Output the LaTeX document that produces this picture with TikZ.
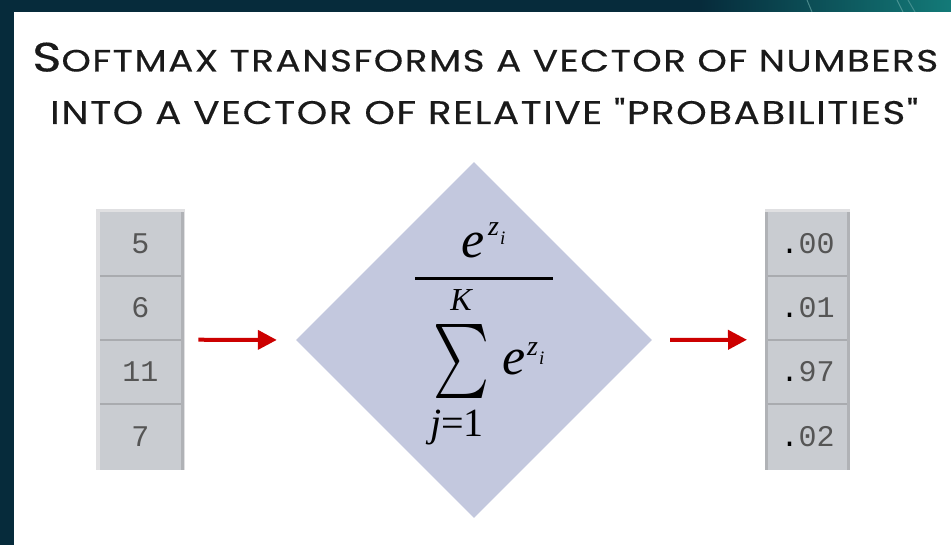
\documentclass[tikz,border=0pt]{standalone}
\usepackage{fontspec}
\usepackage{graphicx}
\usetikzlibrary{arrows.meta,shapes.geometric}
\newfontfamily\ttl[LetterSpace=4,FakeBold=0.3]{Poppins}
\newfontfamily\tms{Liberation Serif}
\newfontfamily\mno{Liberation Mono}
\definecolor{bgdark}{HTML}{062B3B}
\definecolor{bgteal}{HTML}{137A78}
\definecolor{cellfill}{HTML}{C9CCD1}
\definecolor{cellline}{HTML}{A9ABAF}
\definecolor{celledge}{HTML}{E0E0E2}
\definecolor{celldark}{HTML}{B0B2B6}
\definecolor{diafill}{HTML}{C3C8DE}
\definecolor{arrowred}{HTML}{CC0000}
\definecolor{numgrey}{HTML}{555555}
\definecolor{titleblack}{HTML}{1A1A1A}
\tikzset{
  vecframe/.style={fill=celledge, inner sep=0pt, anchor=north west},
  cellbox/.style={fill=cellfill, inner sep=0pt, text=numgrey,
    font=\mno\fontsize{30}{30}\selectfont},
  divider/.style={cellline, line width=2.5pt},
  flow/.style={arrowred, line width=4pt, -{Triangle[length=19pt,width=19pt]}},
  mathtxt/.style={inner sep=0pt, text=black},
}
\begin{document}
\begin{tikzpicture}[x=1pt,y=-1pt]
\useasboundingbox (0,0) rectangle (951,545);
% background
\fill[bgdark] (0,0) rectangle (951,545);
\fill[left color=bgdark,right color=bgteal] (700,0) rectangle (951,12);
\draw[bgteal!60!white, opacity=.6, line width=1pt] (807,0) -- (812,12);
\draw[bgteal!60!white, opacity=.6, line width=1pt] (897,0) -- (903,12);
\draw[bgteal!60!white, opacity=.5, line width=1pt] (908,0) -- (915,12);
% panel
\fill[white] (14,12) rectangle (951,545);
% title
\node[anchor=base west, inner sep=0pt, text=titleblack] (t1) at (32,71.5)
  {\resizebox{906pt}{29pt}{\ttl\fontsize{40}{40}\selectfont S\fontsize{30}{30}\selectfont OFTMAX TRANSFORMS A VECTOR OF NUMBERS}};
\node[anchor=base west, inner sep=0pt, text=titleblack] (t2) at (50,124)
  {\resizebox{868pt}{26pt}{\ttl\fontsize{30}{30}\selectfont INTO A VECTOR OF RELATIVE "PROBABILITIES"}};
% left vector
\node[vecframe, minimum width=89pt, minimum height=261pt] (lvec) at (96,209) {};
\node[cellbox, minimum width=81pt, minimum height=64pt] (l1) at (140.5,244) {5};
\node[cellbox, minimum width=81pt, minimum height=64pt] (l2) at (140.5,308) {6};
\node[cellbox, minimum width=81pt, minimum height=64pt] (l3) at (140.5,372) {11};
\node[cellbox, minimum width=81pt, minimum height=66pt] (l4) at (140.5,437) {7};
\fill[celldark] (181,212) rectangle (184,470);
\draw[divider] (l1.south west) -- (l1.south east);
\draw[divider] (l2.south west) -- (l2.south east);
\draw[divider] (l3.south west) -- (l3.south east);
% right vector
\node[vecframe, minimum width=85pt, minimum height=261pt] (rvec) at (765,209) {};
\node[cellbox, minimum width=79pt, minimum height=64pt] (r1) at (807.5,244) {{\color{black}.}00};
\node[cellbox, minimum width=79pt, minimum height=64pt] (r2) at (807.5,308) {{\color{black}.}01};
\node[cellbox, minimum width=79pt, minimum height=64pt] (r3) at (807.5,372) {{\color{black}.}97};
\node[cellbox, minimum width=79pt, minimum height=66pt] (r4) at (807.5,437) {{\color{black}.}02};
\fill[celldark] (765,212) rectangle (768,470);
\fill[celldark] (847,212) rectangle (850,470);
\draw[divider] (r1.south west) -- (r1.south east);
\draw[divider] (r2.south west) -- (r2.south east);
\draw[divider] (r3.south west) -- (r3.south east);
% diamond
\node[diamond, fill=diafill, minimum width=356pt, minimum height=356pt, inner sep=0pt] (soft) at (474,340) {};
% arrows
\draw[flow, shorten <=13pt, shorten >=19pt] (lvec.east) -- (soft.west);
\draw[flow, shorten <=18pt, shorten >=18pt] (soft.east) -- (rvec.west);
% formula
\draw[black, line width=3pt] (415,278.5) -- (553,278.5);
\node[mathtxt, anchor=base west, font=\tms\itshape\fontsize{52}{52}\selectfont] (ne) at (461,258) {e};
\node[mathtxt, anchor=base west, font=\tms\itshape\fontsize{28}{28}\selectfont] (nz) at (488,236) {z};
\node[mathtxt, anchor=base west, font=\tms\itshape\fontsize{19}{19}\selectfont] (ni) at (500,245) {i};
\node[mathtxt, anchor=base, font=\tms\itshape\fontsize{32}{32}\selectfont] (kk) at (461,311) {K};
\node[mathtxt] (sum) at (461,362) {\resizebox*{56pt}{74pt}{$\sum$}};
\node[mathtxt, anchor=base west, font=\tms\itshape\fontsize{52}{52}\selectfont] (de) at (502,374) {e};
\node[mathtxt, anchor=base west, font=\tms\itshape\fontsize{28}{28}\selectfont] (dz) at (527,356) {z};
\node[mathtxt, anchor=base west, font=\tms\itshape\fontsize{19}{19}\selectfont] (di) at (539,365) {i};
\node[mathtxt, anchor=base, font=\tms\fontsize{40}{40}\selectfont] (jj) at (457,436) {\textit{j}=1};
\end{tikzpicture}
\end{document}
